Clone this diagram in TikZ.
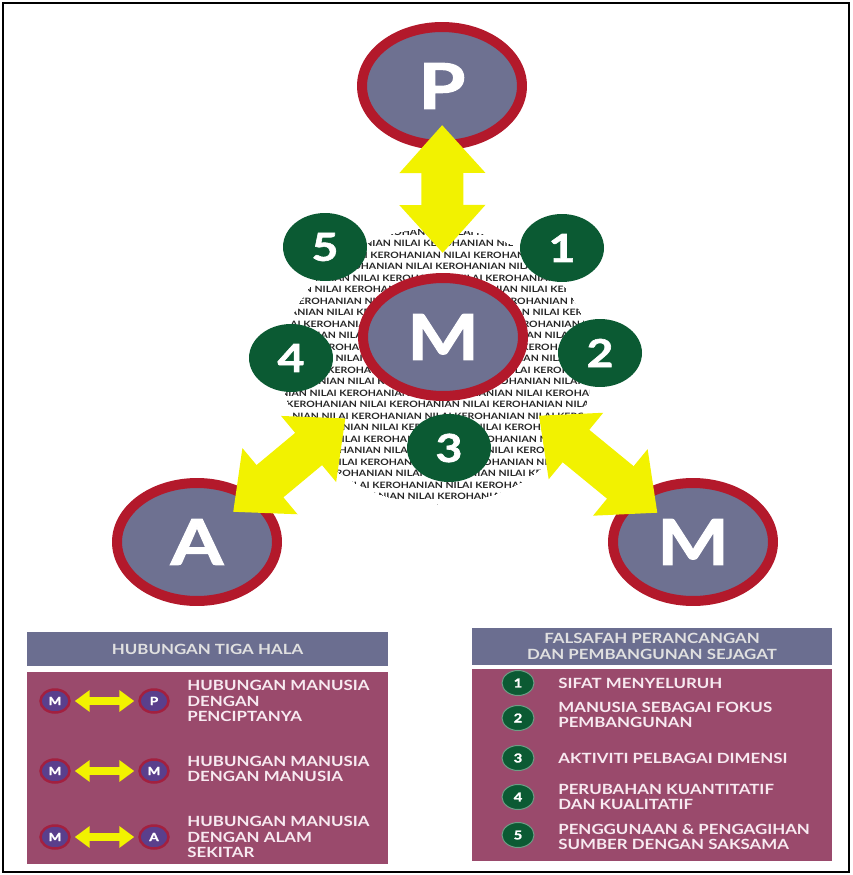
\documentclass[tikz,border=0pt]{standalone}
\usepackage{fontspec}
\setmainfont{Lato}[FakeStretch=1.2]
\newfontfamily\heavyfont{Lato}[FakeStretch=1.2, FakeBold=1.6]
\usetikzlibrary{arrows.meta,shapes.geometric}
\definecolor{slate}{HTML}{6E7191}
\definecolor{ringred}{HTML}{B3192B}
\definecolor{leafgreen}{HTML}{0B5A33}
\definecolor{arrowyellow}{HTML}{F2F200}
\definecolor{headblue}{HTML}{6B6E90}
\definecolor{plum}{HTML}{9A4A6C}
\definecolor{dotpurple}{HTML}{5A3F8C}
\definecolor{dotring}{HTML}{A3203F}
\definecolor{paletext}{HTML}{F8EAF1}
\begin{document}
\begin{tikzpicture}[x=0.02cm, y=-0.02cm,
    bigball/.style = {ellipse, fill=slate, draw=ringred, line width=0.2cm, minimum width=3.2cm, minimum height=2.36cm, inner sep=0pt, text=white, font=\fontsize{36}{36}\heavyfont\bfseries},
    numball/.style = {ellipse, fill=leafgreen, minimum width=1.68cm, minimum height=1.36cm, inner sep=0pt, text=white, font=\fontsize{22}{22}\heavyfont\bfseries},
    smallball/.style = {ellipse, fill=dotpurple, draw=dotring, line width=0.05cm, minimum width=0.58cm, minimum height=0.46cm, inner sep=0pt, text=white, font=\fontsize{6.5}{6.5}\heavyfont\bfseries},
    digball/.style = {ellipse, fill=leafgreen, draw=leafgreen!60!white, line width=0.02cm, minimum width=0.64cm, minimum height=0.5cm, inner sep=0pt, text=white, font=\fontsize{7}{7}\heavyfont\bfseries},
    bigarrow/.style = {arrowyellow, line width=0.84cm, {Triangle[length=0.96cm, width=1.66cm]}-{Triangle[length=0.96cm, width=1.66cm]}},
    smallarrow/.style = {arrowyellow, line width=0.17cm, shorten <=0.08cm, shorten >=0.08cm, {Triangle[length=0.3cm, width=0.42cm]}-{Triangle[length=0.3cm, width=0.42cm]}},
    headbox/.style = {rectangle, fill=headblue, inner sep=0pt, text=black!12, align=center, font=\fontsize{8}{9.2}\selectfont\bfseries},
    rowtext/.style = {anchor=west, inner sep=0pt, text=paletext, align=left, font=\fontsize{8}{8.8}\selectfont\bfseries}]

    \useasboundingbox (0,0) rectangle (852,875);
    \draw[line width=1.2pt] (3,3) rectangle (849,872);

    \begin{scope}
        \clip (437,366) ellipse [x radius=155, y radius=138];
        \foreach \i in {0,...,24} {
            \pgfmathsetmacro\off{mod(\i*53,118)}
            \node[anchor=west, inner sep=0pt, text=black!85, font=\fontsize{5}{5}\selectfont\bfseries]
                at (270-\off, 232+11.5*\i) {KEROHANIAN NILAI KEROHANIAN NILAI KEROHANIAN NILAI KEROHANIAN NILAI KEROHANIAN NILAI};
        }
    \end{scope}

    \node[bigball] (P) at (442,86) {P};
    \node[bigball] (Mc) at (443,337) {M};
    \node[bigball] (A) at (197,542) {A};
    \node[bigball] (Mr) at (693,542) {M};

    \node[numball] (n5) at (325,247) {5};
    \node[numball] (n1) at (562,248) {1};
    \node[numball] (n4) at (291,358) {4};
    \node[numball] (n2) at (600,353) {2};
    \node[numball] (n3) at (449,448) {3};

    \draw[bigarrow, shorten <=0.78cm, shorten >=1.68cm] (P.center) -- (Mc.center);
    \draw[bigarrow, shorten <=0.94cm, shorten >=2.54cm] (A.center) -- (Mc.center);
    \draw[bigarrow, shorten <=0.92cm, shorten >=2.48cm] (Mr.center) -- (Mc.center);

    \node[headbox, minimum width=7.22cm, minimum height=0.68cm] (lhead) at (207.5,649) {HUBUNGAN TIGA HALA};
    \fill[plum] (27,672) rectangle (388,864);

    \node[smallball] (m1) at (55,701) {M};
    \node[smallball] (p1) at (154,701) {P};
    \draw[smallarrow] (m1) -- (p1);
    \node[rowtext] (t1) at (187,701) {HUBUNGAN MANUSIA\\DENGAN\\PENCIPTANYA};

    \node[smallball] (m2) at (55,771) {M};
    \node[smallball] (m3) at (154,771) {M};
    \draw[smallarrow] (m2) -- (m3);
    \node[rowtext] (t2) at (187,769) {HUBUNGAN MANUSIA\\DENGAN MANUSIA};

    \node[smallball] (m4) at (55,837) {M};
    \node[smallball] (a1) at (154,837) {A};
    \draw[smallarrow] (m4) -- (a1);
    \node[rowtext] (t3) at (187,837) {HUBUNGAN MANUSIA\\DENGAN ALAM\\SEKITAR};

    \node[headbox, minimum width=7.2cm, minimum height=0.74cm] (rhead) at (652,646.5) {FALSAFAH PERANCANGAN\\DAN PEMBANGUNAN SEJAGAT};
    \fill[plum] (472,669) rectangle (832,861);

    \node[digball] (d1) at (518,683) {1};
    \node[rowtext] (s1) at (558,683) {SIFAT MENYELURUH};
    \node[digball] (d2) at (518,718) {2};
    \node[rowtext] (s2) at (558,715) {MANUSIA SEBAGAI FOKUS\\PEMBANGUNAN};
    \node[digball] (d3) at (518,758) {3};
    \node[rowtext] (s3) at (558,758) {AKTIVITI PELBAGAI DIMENSI};
    \node[digball] (d4) at (518,797) {4};
    \node[rowtext] (s4) at (558,797) {PERUBAHAN KUANTITATIF\\DAN KUALITATIF};
    \node[digball] (d5) at (518,835) {5};
    \node[rowtext] (s5) at (558,837) {PENGGUNAAN \& PENGAGIHAN\\SUMBER DENGAN SAKSAMA};
\end{tikzpicture}
\end{document}
